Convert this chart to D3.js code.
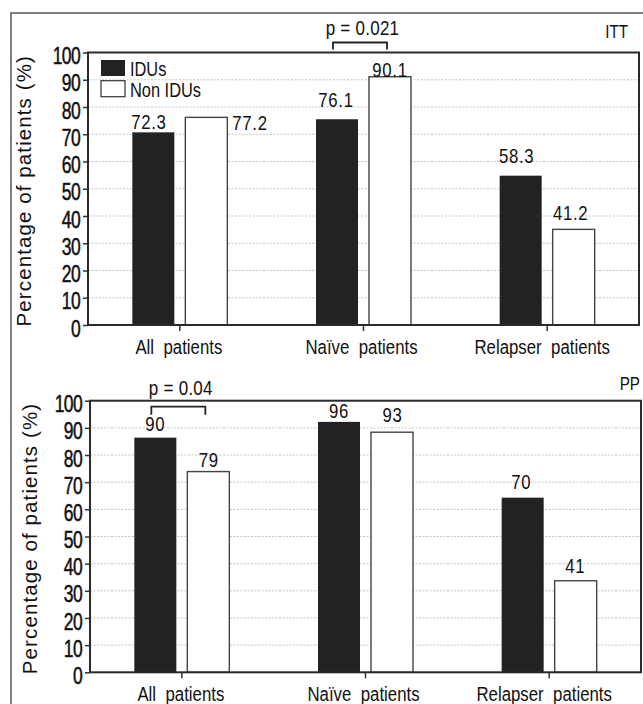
<!DOCTYPE html>
<html><head><meta charset="utf-8">
<script src="https://cdn.jsdelivr.net/npm/d3@7"></script>
<style>body{margin:0;background:#fff}svg{display:block}</style>
</head><body><svg id="c" width="643" height="704"></svg>
<script>
// ---------- data ----------
const categories = ["All patients", "Naïve patients", "Relapser patients"];
const seriesNames = ["IDUs", "Non IDUs"];
const yTickValues = [0, 10, 20, 30, 40, 50, 60, 70, 80, 90, 100];
const yAxisTitle = "Percentage of patients (%)";

// ITT panel (bar heights as drawn, printed labels)
const ittIDUs = [70.7, 75.5, 54.8];
const ittNonIDUs = [76.2, 91.1, 35.1];
const ittIDUsLabels = ["72.3", "76.1", "58.3"];
const ittNonIDUsLabels = ["77.2", "90.1", "41.2"];
const ittPText = "p = 0.021";
const ittPCategory = "Naïve patients";

// PP panel
const ppIDUs = [86.4, 92.2, 64.3];
const ppNonIDUs = [73.9, 88.4, 33.7];
const ppIDUsLabels = ["90", "96", "70"];
const ppNonIDUsLabels = ["79", "93", "41"];
const ppPText = "p = 0.04";
const ppPCategory = "All patients";

// ---------- layout ----------
const SANS = "'Liberation Sans',Arial,Helvetica,sans-serif";
const DARK = "#222";
const catNudge = [-1, -2, -5];

// horizontally condense text (no narrow face installed)
function narrow(sel, sx) {
  sel.each(function () {
    const t = d3.select(this);
    const x = +(t.attr("x") || 0);
    t.attr("x", x / sx).attr("transform", `scale(${sx},1)`);
  });
}

const panels = [
  { tag: "ITT", tagX: 628, tagY: 38, idu: ittIDUs, non: ittNonIDUs,
    iduLab: ittIDUsLabels, nonLab: ittNonIDUsLabels, pText: ittPText, pCat: ittPCategory,
    left: 88, right: 639, top: 52.5, bottom: 325, titleX: 31, legend: true,
    brY: -10, brTick: -3, pY: -17.5,
    iduNudge: [[-4.5, -3], [-1, -12], [-4, -12.5]],
    nonNudge: [[5, 13, "start"], [0, 0], [-3, -9]] },
  { tag: "PP", tagX: 640, tagY: 390.5, idu: ppIDUs, non: ppNonIDUs,
    iduLab: ppIDUsLabels, nonLab: ppNonIDUsLabels, pText: ppPText, pCat: ppPCategory,
    left: 90, right: 641, top: 400.7, bottom: 672.3, titleX: 37, legend: false,
    brY: 6, brTick: 14, pY: -5.7,
    iduNudge: [[0, -6.5], [0, -4], [-1.5, -8.5]],
    nonNudge: [[0.5, -4.5], [0.5, -10], [-0.5, -7.5]] }
];

const svg = d3.select("#c");

// outer frame
svg.append("path").attr("d", "M11,704V13H643")
  .attr("fill", "none").attr("stroke", "#555").attr("stroke-width", 1.5);

panels.forEach(P => {
  const g = svg.append("g");
  const y = d3.scaleLinear().domain([0, 100]).range([P.bottom, P.top]);
  const x0 = d3.scaleBand().domain(categories).range([P.left, P.right]).padding(0);
  const x1 = d3.scaleBand().domain(seriesNames).range([0, 95]).paddingInner(0.2075).paddingOuter(0);
  const gx = c => x0(c) + x0.bandwidth() / 2 - 47.5;

  // grid
  g.append("g").selectAll("line").data(yTickValues.filter(v => v > 0 && v < 100)).join("line")
    .attr("x1", P.left).attr("x2", P.right)
    .attr("y1", d => y(d)).attr("y2", d => y(d))
    .attr("stroke", "#b5b5b5").attr("stroke-width", 0.8).attr("stroke-dasharray", "2,1.5");

  // bars
  const rows = categories.map((c, i) => ({ c, i, vals: [P.idu[i], P.non[i]], labs: [P.iduLab[i], P.nonLab[i]] }));
  const grp = g.append("g").selectAll("g").data(rows).join("g")
    .attr("transform", d => `translate(${gx(d.c)},0)`);
  grp.selectAll("rect").data(d => d.vals.map((v, k) => ({ v, k, s: seriesNames[k] }))).join("rect")
    .attr("x", d => x1(d.s)).attr("width", x1.bandwidth())
    .attr("y", d => y(d.v)).attr("height", d => P.bottom - y(d.v))
    .attr("fill", d => d.k === 0 ? DARK : "#fff")
    .attr("stroke", d => d.k === 0 ? "none" : "#444")
    .attr("stroke-width", 1.4);

  // value labels
  const vl = grp.selectAll("text").data(d => d.labs.map((t, k) => ({ t, k, s: seriesNames[k], v: d.vals[k], n: (k === 0 ? P.iduNudge : P.nonNudge)[d.i] }))).join("text")
    .attr("x", d => d.n[2] === "start" ? x1(d.s) + x1.bandwidth() + d.n[0] : x1(d.s) + x1.bandwidth() / 2 + d.n[0])
    .attr("y", d => y(d.v) + d.n[1])
    .attr("text-anchor", d => d.n[2] || "middle")
    .attr("font-family", SANS).attr("font-size", 20).attr("letter-spacing", 0.8)
    .attr("fill", "#111").text(d => d.t);
  narrow(vl, 0.84);

  // y axis
  const ya = g.append("g").attr("transform", `translate(${P.left},0)`)
    .call(d3.axisLeft(y).tickValues(yTickValues).tickSize(5).tickPadding(3));
  ya.select(".domain").remove();
  ya.selectAll(".tick line").attr("stroke", "#333").attr("stroke-width", 1.5);
  const yt = ya.selectAll(".tick text").attr("font-family", SANS).attr("font-size", 23)
    .attr("letter-spacing", -0.8).attr("dy", "0.48em").attr("fill", "#111")
    .attr("stroke", "#111").attr("stroke-width", 0.5);
  narrow(yt, 0.76);

  // x axis
  const xa = g.append("g").attr("transform", `translate(0,${P.bottom})`)
    .call(d3.axisBottom(x0).tickSize(6));
  xa.select(".domain").remove();
  xa.selectAll(".tick line").attr("stroke", "#333").attr("stroke-width", 1.5);
  const xt = xa.selectAll(".tick text").attr("y", 29).attr("dy", 0)
    .attr("x", (d, i) => catNudge[i])
    .attr("font-family", SANS).attr("font-size", 21).attr("word-spacing", 6).attr("fill", "#111");
  narrow(xt, 0.8);

  // plot border
  g.append("rect").attr("x", P.left).attr("y", P.top)
    .attr("width", P.right - P.left).attr("height", P.bottom - P.top)
    .attr("fill", "none").attr("stroke", "#2a2a2a").attr("stroke-width", 2);

  // y title
  g.append("text")
    .attr("transform", `translate(${P.titleX},${(P.top + P.bottom) / 2 + 2}) rotate(-90)`)
    .attr("text-anchor", "middle").attr("font-family", SANS).attr("font-size", 20.5)
    .attr("letter-spacing", 1.1).attr("fill", "#111").text(yAxisTitle);

  // panel tag
  const tg = g.append("text").attr("x", P.tagX).attr("y", P.tagY).attr("text-anchor", "end")
    .attr("font-family", SANS).attr("font-size", 19)
    .attr("fill", "#111").text(P.tag);
  narrow(tg, 0.8);

  // p-value bracket
  const bx = gx(P.pCat);
  const xa1 = bx + x1(seriesNames[0]) + x1.bandwidth() / 2 - 4;
  const xa2 = bx + x1(seriesNames[1]) + x1.bandwidth() / 2 - 3;
  g.append("path")
    .attr("d", `M${xa1},${P.top + P.brTick}V${P.top + P.brY}H${xa2}V${P.top + P.brTick}`)
    .attr("fill", "none").attr("stroke", "#222").attr("stroke-width", 1.8);
  const pt = g.append("text").attr("x", (xa1 + xa2) / 2 + 2.5).attr("y", P.top + P.pY)
    .attr("text-anchor", "middle").attr("font-family", SANS).attr("font-size", 20)
    .attr("letter-spacing", 0.3).attr("fill", "#111").text(P.pText);
  narrow(pt, 0.85);

  // legend
  if (P.legend) {
    const lg = g.append("g").attr("transform", "translate(101,60)");
    lg.selectAll("rect").data(seriesNames).join("rect")
      .attr("x", 0).attr("y", (d, i) => i * 20.7).attr("width", 24).attr("height", 16)
      .attr("fill", (d, i) => i === 0 ? DARK : "#fff")
      .attr("stroke", (d, i) => i === 0 ? "none" : "#333").attr("stroke-width", 1.2);
    const lt = lg.selectAll("text").data(seriesNames).join("text")
      .attr("x", 29).attr("y", (d, i) => 16 + i * 20.7)
      .attr("font-family", SANS).attr("font-size", 20).attr("fill", "#111").text(d => d);
    narrow(lt, 0.82);
  }
});
</script>
</body></html>
